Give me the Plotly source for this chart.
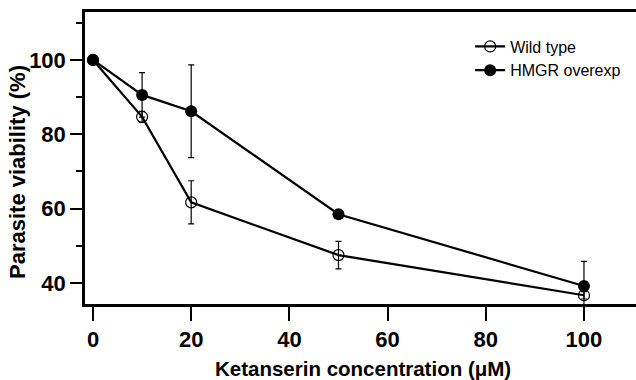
import plotly.graph_objects as go

conc = [0, 10, 20, 50, 100]
wild = [100, 84.7, 61.7, 47.5, 36.7]
wild_err = [0.5, 1.5, 5.8, 3.7, 1.0]
hmgr = [100, 90.6, 86.2, 58.5, 39.2]
hmgr_err = [0.5, 6.0, 12.5, 1.0, 6.6]

x_ticks = [0, 20, 40, 60, 80, 100]
y_ticks = [40, 60, 80, 100]

FONT = "Liberation Sans, Arial, sans-serif"

fig = go.Figure()
fig.add_trace(go.Scatter(
    x=conc, y=wild, name="Wild type", mode="lines+markers",
    line=dict(color="black", width=2.2),
    marker=dict(symbol="circle-open", size=11, color="black", line=dict(width=1.2, color="black")),
    error_y=dict(type="data", array=wild_err, visible=True, color="black", thickness=1.2, width=3),
))
fig.add_trace(go.Scatter(
    x=conc, y=hmgr, name="HMGR overexp", mode="lines+markers",
    line=dict(color="black", width=2.2),
    marker=dict(symbol="circle", size=12, color="black"),
    error_y=dict(type="data", array=hmgr_err, visible=True, color="black", thickness=1.2, width=3),
))

fig.update_layout(
    width=636, height=380,
    margin=dict(l=85, r=0, t=12, b=76),
    paper_bgcolor="white", plot_bgcolor="white",
    font=dict(family=FONT, color="black"),
    showlegend=True,
    legend=dict(x=0.699, y=0.94, xanchor="left", yanchor="top",
                font=dict(family=FONT, size=16, color="black"),
                bgcolor="rgba(0,0,0,0)", tracegroupgap=0),
    xaxis=dict(
        range=[-1.63, 110.6], tickmode="array", tickvals=x_ticks,
        ticks="outside", ticklen=14, tickwidth=2, tickcolor="black",
        showline=True, linewidth=2.5, linecolor="black", mirror=True,
        showgrid=False, zeroline=False,
        tickfont=dict(family=FONT, size=22, weight="bold"),
    ),
    yaxis=dict(
        range=[34.35, 112.9], tickmode="array", tickvals=y_ticks,
        ticks="outside", ticklen=12, tickwidth=2, tickcolor="black",
        minor=dict(tickvals=[50, 70, 90, 110], ticks="outside", ticklen=6, tickwidth=2, tickcolor="black"),
        showline=True, linewidth=2.5, linecolor="black",
        showgrid=False, zeroline=False,
        tickfont=dict(family=FONT, size=22, weight="bold"),
    ),
    annotations=[
        dict(text="Ketanserin concentration (μM)", xref="paper", yref="paper",
             x=(363 - 85) / 551, y=-(368 - 304) / 292, xanchor="center", yanchor="middle",
             showarrow=False, font=dict(family=FONT, size=20.5, weight="bold", color="black")),
        dict(text="Parasite viability (%)", xref="paper", yref="paper",
             x=-(85 - 17) / 551, y=(304 - 172) / 292, xanchor="center", yanchor="middle",
             textangle=-90, showarrow=False,
             font=dict(family=FONT, size=22, weight="bold", color="black")),
    ],
)

fig.write_html("out.html")
